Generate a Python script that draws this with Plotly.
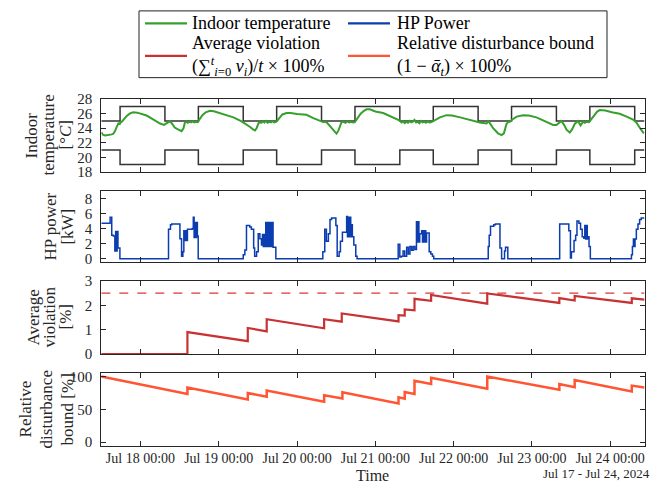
import pandas as pd
import plotly.graph_objects as go

# ---------------- data ----------------
START = "2024-07-17 12:00"          # hours below are offsets from this time
END_H = 166.5

x_ticks = ["2024-07-18", "2024-07-19", "2024-07-20", "2024-07-21",
           "2024-07-22", "2024-07-23", "2024-07-24"]

# comfort bounds (step changes)
bound_h = [0, 5.75, 19.5, 29.75, 43.5, 53.75, 67.5, 77.75, 91.5, 101.75,
           115.5, 125.75, 139.5, 149.75, 163.5, 166.5]
upper_c = [25, 27, 25, 27, 25, 27, 25, 27, 25, 27, 25, 27, 25, 27, 25, 25]
lower_c = [21, 19, 21, 19, 21, 19, 21, 19, 21, 19, 21, 19, 21, 19, 21, 21]

# indoor temperature
temp_h = [0, 0.5, 1.2, 2.2, 3.2, 3.7, 4.2, 4.7, 5.0, 5.3, 5.6, 5.9, 6.3, 7.0,
          7.8, 8.8, 9.8, 11.0, 13.9, 16.0, 18.0, 19.2, 19.8, 20.5, 21.0, 21.6,
          22.5, 23.5, 24.6, 25.2, 25.6, 26.0, 26.5, 27.0, 27.5, 28.0, 28.5,
          29.0, 29.6, 30.2, 31.0, 32.0, 33.3, 34.5, 37.0, 40.5, 43.0, 43.5,
          44.5, 45.5, 46.5, 47.1, 47.6, 48.2, 48.6, 49.0, 49.5, 50.0, 50.5,
          51.0, 51.5, 52.0, 52.5, 53.0, 53.7, 54.5, 55.5, 56.8, 58.0, 60.0,
          62.9, 65.0, 67.0, 68.0, 69.0, 69.5, 70.5, 71.5, 72.1, 72.7, 73.3,
          73.6, 74.2, 74.8, 75.4, 76.0, 76.6, 77.2, 77.7, 78.5, 79.5, 80.5,
          81.3, 82.3, 84.0, 86.4, 89.0, 91.5, 92.0, 92.5, 93.0, 93.5, 94.0,
          94.5, 95.0, 95.5, 96.0, 96.5, 97.0, 97.5, 98.0, 98.5, 99.0, 99.5,
          100.0, 100.5, 101.2, 102.5, 103.8, 105.8, 107.5, 110.0, 113.0,
          116.0, 118.1, 118.6, 119.1, 120.1, 121.6, 122.7, 123.4, 124.2,
          124.7, 125.2, 126.0, 127.3, 129.3, 131.0, 133.4, 136.0, 138.5,
          139.5, 140.3, 141.0, 141.8, 142.6, 143.6, 144.4, 145.1, 145.6,
          146.1, 146.9, 147.4, 147.7, 148.2, 148.7, 149.5, 150.3, 151.2,
          152.0, 152.8, 154.5, 156.5, 158.9, 161.0, 163.0, 164.0, 164.5,
          165.3, 166.3]
temp_c = [23.45, 23.1, 23.0, 23.05, 23.15, 23.25, 23.6, 24.15, 24.5, 24.75,
          24.5, 24.8, 24.9, 25.3, 25.7, 26.05, 26.2, 26.15, 25.75, 25.2, 24.65,
          24.45, 24.6, 24.85, 24.95, 24.7, 24.1, 23.85, 23.6, 24.0, 24.75,
          24.9, 24.75, 24.9, 24.8, 24.95, 24.8, 24.9, 24.85, 25.3, 25.8, 26.2,
          26.4, 26.35, 26.0, 25.5, 24.95, 24.8, 24.6, 24.2, 23.85, 23.7, 24.0,
          24.7, 24.85, 24.75, 24.95, 24.8, 25.0, 24.75, 24.9, 24.8, 25.0,
          24.8, 24.9, 25.4, 25.9, 26.1, 26.1, 25.95, 25.85, 25.4, 25.05,
          24.85, 24.85, 24.6, 24.1, 23.5, 23.25, 23.7, 24.4, 24.8, 24.9,
          24.75, 24.95, 24.8, 24.9, 24.8, 24.85, 25.4, 26.0, 26.4, 26.6, 26.6,
          26.3, 26.1, 25.6, 25.05, 24.8, 24.95, 24.7, 24.9, 24.75, 25.0, 24.8,
          24.9, 25.15, 24.8, 24.9, 24.7, 25.0, 24.8, 24.9, 24.75, 24.95, 24.8,
          24.85, 25.2, 25.5, 25.8, 25.75, 25.5, 25.1, 24.8, 24.65, 24.95,
          24.7, 24.0, 23.3, 23.05, 23.3, 24.6, 24.85, 24.9, 25.2, 25.6, 25.8,
          25.75, 25.5, 24.95, 24.45, 24.45, 24.8, 25.0, 24.5, 23.8, 23.4,
          23.9, 24.6, 24.8, 25.0, 24.4, 24.8, 24.9, 24.75, 24.9, 24.85, 25.3,
          25.9, 26.3, 26.5, 26.45, 26.2, 26.0, 25.6, 25.2, 24.8, 24.4, 23.9,
          23.3]

# heat-pump power (step series)
hp_h = [0, 2.7, 3.2, 3.7, 4.15, 4.4, 4.6, 4.85, 5.1, 5.7,
        20.6, 21.2, 21.6, 24.1, 24.6, 25.0, 25.3, 25.6, 25.85, 26.1, 26.4,
        27.9, 28.2, 28.45, 28.7, 28.95, 29.2, 29.45, 29.7,
        43.5, 44.0, 44.5, 45.5, 46.0, 46.7, 47.0, 47.6, 48.1, 48.6, 49.1,
        49.4, 49.65, 49.9, 50.15, 50.4, 50.65, 50.9, 51.15, 51.4, 51.65,
        51.9, 52.15, 52.4, 52.65, 53.5,
        67.9, 68.5, 69.0, 69.6, 70.1, 70.6, 71.9, 72.3, 72.9, 73.3, 73.9,
        75.2, 75.45, 75.7, 75.95, 76.2, 76.45, 76.7, 76.95, 77.4, 78.0, 78.4,
        91.0, 91.5, 92.0, 92.5, 93.0, 93.6, 94.1, 94.6, 95.1, 95.6, 96.1,
        96.6, 96.85, 97.1, 97.35, 97.6, 98.2, 98.45, 98.7, 98.95, 99.2,
        99.45, 99.7, 100.5, 101.0, 101.5, 101.9,
        118.6, 118.9, 119.3, 120.3, 120.8, 122.2, 122.7, 123.6, 123.9, 124.6,
        140.5, 143.3, 143.8, 144.1, 144.9, 145.4, 145.8, 146.4, 146.9, 147.4,
        147.9, 148.2, 148.45, 148.7, 148.95, 149.2, 149.5, 149.9,
        162.5, 162.8, 163.1, 163.35, 163.6, 164.0, 164.5, 165.0, 165.5, 166.5]
hp_kw = [4.7, 5.5, 3.1, 3.0, 1.0, 3.6, 1.0, 3.6, 1.4, 0.0,
         3.9, 4.5, 4.6, 2.65, 0.3, 0.9, 3.7, 2.4, 3.7, 2.4, 3.9,
         4.0, 5.5, 2.8, 4.8, 2.8, 4.8, 3.0, 0.0,
         0.5, 1.15, 4.4, 4.2, 3.9, 1.4, 0.3, 0.9, 3.3, 2.65, 1.8,
         3.2, 1.6, 3.2, 1.6, 4.8, 1.6, 4.8, 1.6, 4.8, 1.6,
         4.8, 1.6, 4.8, 1.5, 0.0,
         0.9, 3.9, 2.3, 3.3, 5.2, 5.4, 4.4, 0.3, 0.9, 2.3, 3.5,
         5.6, 2.9, 5.5, 2.9, 5.5, 2.9, 4.5, 2.9, 1.8, 0.3, 0.0,
         1.9, 0.2, 0.3, 1.0, 0.3, 1.5, 0.6, 1.6, 1.1, 1.6, 1.2,
         4.9, 2.2, 4.9, 2.2, 3.3, 3.7, 2.2, 3.7, 2.2, 3.7,
         2.2, 3.4, 0.9, 0.6, 0.3, 0.0,
         1.6, 3.1, 4.3, 4.5, 4.6, 1.4, 0.0, 1.0, 1.5, 0.0,
         4.6, 3.7, 0.1, 0.9, 2.4, 3.1, 5.0, 4.7, 3.9, 2.9,
         2.7, 4.4, 2.6, 4.4, 2.6, 2.9, 1.6, 0.0,
         0.5, 1.6, 2.6, 1.6, 2.6, 3.9, 4.6, 5.2, 5.4, 5.4]

# average violation [%]
viol_h = [0, 26.4, 26.4, 44.9, 44.9, 50.7, 50.7, 68.3, 68.3, 73.7, 73.7,
          91.1, 91.1, 93.0, 93.0, 96.0, 96.0, 101.1, 101.1, 118.3, 118.3,
          140.4, 140.4, 145.1, 145.1, 162.6, 162.6, 166.5]
viol_pct = [0, 0, 0.90, 0.53, 1.07, 0.93, 1.43, 1.06, 1.43, 1.33, 1.67,
            1.34, 1.60, 1.58, 1.83, 1.80, 2.27, 2.19, 2.43, 2.07, 2.49,
            2.10, 2.30, 2.20, 2.39, 2.10, 2.29, 2.24]
viol_limit = 2.5

# relative disturbance bound [%]
dist_h = [0, 26.4, 26.4, 44.9, 44.9, 50.7, 50.7, 68.3, 68.3, 73.9, 73.9,
          91.1, 91.1, 93.0, 93.0, 96.0, 96.0, 101.1, 101.1, 118.3, 118.3,
          140.4, 140.4, 145.1, 145.1, 162.6, 162.6, 166.5]
dist_pct = [100, 73.5, 83.2, 65.1, 75.0, 69.1, 78.8, 61.8, 71.5, 66.6, 75.9,
            58.8, 68.5, 66.2, 76.5, 73.5, 93.5, 88.7, 98.0, 81.3, 100.0,
            79.9, 88.7, 83.8, 94.6, 77.4, 86.2, 83.2]

# ---------------- figure ----------------
W, H = 655, 489
FONT = "Liberation Serif"
INK = "#262626"
GREEN, BLUE, RED, ORANGE, GREY = "#35a02c", "#0b3cb0", "#c83232", "#ff5533", "#333333"


def ts(hours):
    return pd.Timestamp(START) + pd.to_timedelta(hours, unit="h")


def px(x):
    return x / W


def py(y):
    return 1 - y / H


x_range = [ts(0), ts(END_H)]

fig = go.Figure()
fig.add_trace(go.Scatter(x=ts(bound_h), y=upper_c, mode="lines", line=dict(color=GREY, width=1.5, shape="hv"),
                         xaxis="x", yaxis="y"))
fig.add_trace(go.Scatter(x=ts(bound_h), y=lower_c, mode="lines", line=dict(color=GREY, width=1.5, shape="hv"),
                         xaxis="x", yaxis="y"))
fig.add_trace(go.Scatter(x=ts(temp_h), y=temp_c, mode="lines", line=dict(color=GREEN, width=2),
                         name="Indoor temperature", xaxis="x", yaxis="y"))
fig.add_trace(go.Scatter(x=ts(hp_h), y=hp_kw, mode="lines", line=dict(color=BLUE, width=1.5, shape="hv"),
                         name="HP Power", xaxis="x2", yaxis="y2"))
fig.add_trace(go.Scatter(x=x_range, y=[viol_limit, viol_limit], mode="lines",
                         line=dict(color="#d9383a", width=1.3, dash="dash"), xaxis="x3", yaxis="y3"))
fig.add_trace(go.Scatter(x=ts(viol_h), y=viol_pct, mode="lines", line=dict(color=RED, width=2.2),
                         name="Average violation", xaxis="x3", yaxis="y3"))
fig.add_trace(go.Scatter(x=ts(dist_h), y=dist_pct, mode="lines", line=dict(color=ORANGE, width=2.5),
                         name="Relative disturbance bound", xaxis="x4", yaxis="y4"))

xdom = [px(101.3), px(644.5)]
common_x = dict(domain=xdom, range=x_range, type="date", tickvals=x_ticks, tickformat="%b %d %H:%M",
                ticks="inside", ticklen=5, tickcolor=INK, showline=True, linecolor=INK, linewidth=1,
                mirror="ticks", showgrid=False, zeroline=False)
common_y = dict(ticks="inside", ticklen=5, tickcolor=INK, showline=True, linecolor=INK, linewidth=1,
                mirror="ticks", showgrid=False, zeroline=False, ticklabelstandoff=5,
                tickfont=dict(family=FONT, size=15, color=INK))

layout = dict(
    width=W, height=H, margin=dict(l=0, r=0, t=0, b=0), showlegend=False,
    paper_bgcolor="white", plot_bgcolor="white",
    font=dict(family=FONT, color=INK),
    xaxis=dict(common_x, anchor="y", showticklabels=False),
    xaxis2=dict(common_x, anchor="y2", matches="x", showticklabels=False),
    xaxis3=dict(common_x, anchor="y3", matches="x", showticklabels=False),
    xaxis4=dict(common_x, anchor="y4", matches="x", showticklabels=True, ticklabelstandoff=0,
                tickfont=dict(family=FONT, size=14, color=INK)),
    yaxis=dict(common_y, anchor="x", domain=[py(169.3), py(94.3)], range=[18, 28], tickvals=[18, 20, 22, 24, 26, 28]),
    yaxis2=dict(common_y, anchor="x2", domain=[py(263), py(189)], range=[-0.5, 9], tickvals=[0, 2, 4, 6, 8]),
    yaxis3=dict(common_y, anchor="x3", domain=[py(357.7), py(282.3)], range=[0, 3], tickvals=[0, 1, 2, 3]),
    yaxis4=dict(common_y, anchor="x4", domain=[py(452.3), py(377.6)], range=[-5, 105], tickvals=[0, 50, 100]),
)
fig.update_layout(**layout)

annotations = []


def label(text, x, y, size=17, angle=-90, xanchor="center", yanchor="middle", color=INK, align="center"):
    annotations.append(dict(text=text, x=px(x), y=py(y), xref="paper", yref="paper", showarrow=False,
                            textangle=angle, xanchor=xanchor, yanchor=yanchor, align=align,
                            font=dict(family=FONT, size=size, color=color)))


# y-axis titles, one annotation per line
for text, x in [("Indoor", 31), ("temperature", 48), ("[°<i>C</i>]", 65)]:
    label(text, x, 131.8)
for text, x in [("HP power", 51), ("[kW]", 68)]:
    label(text, x, 226)
for text, x in [("Average", 34), ("violation", 50), ("[%]", 66)]:
    label(text, x, 320)
for text, x in [("Relative", 25), ("disturbance", 46), ("bound [%]", 67)]:
    label(text, x, 415)

# x-axis title and date range
label("Time", 372.9, 483.5, size=16, angle=0)
label("Jul 17 - Jul 24, 2024", 652, 481.5, size=13, angle=0, xanchor="right")

# manual legend (centred over the plot)
shapes = [dict(type="rect", xref="paper", yref="paper", x0=px(139), x1=px(607), y0=py(72), y1=py(3),
               line=dict(color="#222222", width=1), fillcolor="white", layer="above")]
for (x0, yy, col) in [(145, 15.8, GREEN), (348, 15.8, BLUE), (145, 49.5, RED), (348, 49.5, ORANGE)]:
    shapes.append(dict(type="line", xref="paper", yref="paper", x0=px(x0), x1=px(x0 + 42), y0=py(yy), y1=py(yy),
                       line=dict(color=col, width=2.2), layer="above"))
label("Indoor temperature", 190, 15.5, size=18, angle=0, xanchor="left", color="black", align="left")
label("HP Power", 395, 15.5, size=18, angle=0, xanchor="left", color="black", align="left")
label("Average violation<br>(∑<sup><i>t</i></sup><sub><i>i</i>=0</sub> <i>v<sub>i</sub></i>)/<i>t</i> × 100%",
      190, 50, size=18, angle=0, xanchor="left", color="black", align="left")
label("Relative disturbance bound<br>(1 − <i>ᾱ<sub>t</sub></i>) × 100%",
      395, 50, size=18, angle=0, xanchor="left", color="black", align="left")

fig.update_layout(annotations=annotations, shapes=shapes)
fig.write_html("out.html")
